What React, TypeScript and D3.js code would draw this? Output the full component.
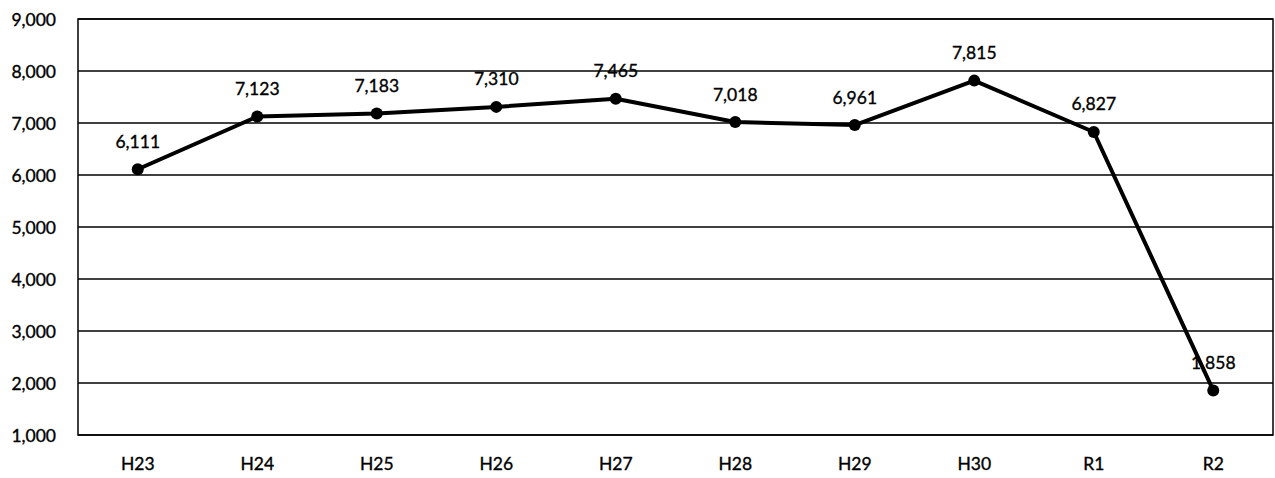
import React from 'react';
import * as d3 from 'd3';

const categories = ['H23', 'H24', 'H25', 'H26', 'H27', 'H28', 'H29', 'H30', 'R1', 'R2'];
const values = [6111, 7123, 7183, 7310, 7465, 7018, 6961, 7815, 6827, 1858];
const yTicks = [1000, 2000, 3000, 4000, 5000, 6000, 7000, 8000, 9000];

const W = 1275;
const H = 478;
const margin = {top: 19, right: 2, bottom: 43, left: 78};

const App = () => {
  const x = d3
    .scaleBand<string>()
    .domain(categories)
    .range([margin.left, W - margin.right]);
  const y = d3
    .scaleLinear()
    .domain([1000, 9000])
    .range([H - margin.bottom, margin.top]);
  const fmt = d3.format(',');

  const line = d3
    .line<number>()
    .x((_, i) => (x(categories[i]) as number) + x.bandwidth() / 2)
    .y(d => y(d));

  const font = 'Lato, "Open Sans", sans-serif';
  // slight stroke to mimic the heavy scanned text
  const txt = {fontSize: 17.5, fill: '#000', stroke: '#000', strokeWidth: 0.35};

  return (
    <svg
      width={W}
      height={H}
      style={{position: 'absolute', left: 0, top: 0, background: '#fff'}}
      fontFamily={font}
    >
      {/* grid */}
      {yTicks.map(t => (
        <g key={t}>
          <line
            x1={margin.left}
            x2={W - margin.right}
            y1={y(t)}
            y2={y(t)}
            stroke="#000"
            strokeWidth={1.5}
          />
          <text
            x={56}
            y={y(t)}
            textAnchor="end"
            dominantBaseline="central"
            {...txt}
          >
            {fmt(t)}
          </text>
        </g>
      ))}
      <rect
        x={margin.left}
        y={margin.top}
        width={W - margin.left - margin.right}
        height={H - margin.top - margin.bottom}
        fill="none"
        stroke="#000"
        strokeWidth={1.5}
      />
      {/* x labels */}
      {categories.map(c => (
        <text
          key={c}
          x={(x(c) as number) + x.bandwidth() / 2}
          y={463}
          textAnchor="middle"
          dominantBaseline="central"
          {...txt}
        >
          {c}
        </text>
      ))}
      {/* series */}
      <path d={line(values) || ''} fill="none" stroke="#000" strokeWidth={4} strokeLinejoin="round" />
      {values.map((v, i) => {
        const cx = (x(categories[i]) as number) + x.bandwidth() / 2;
        return (
          <g key={i}>
            <circle cx={cx} cy={y(v)} r={6} fill="#000" />
            <text
              x={cx}
              y={y(v) - 28}
              textAnchor="middle"
              dominantBaseline="central"
              {...txt}
            >
              {fmt(v)}
            </text>
          </g>
        );
      })}
    </svg>
  );
};

export default App;
